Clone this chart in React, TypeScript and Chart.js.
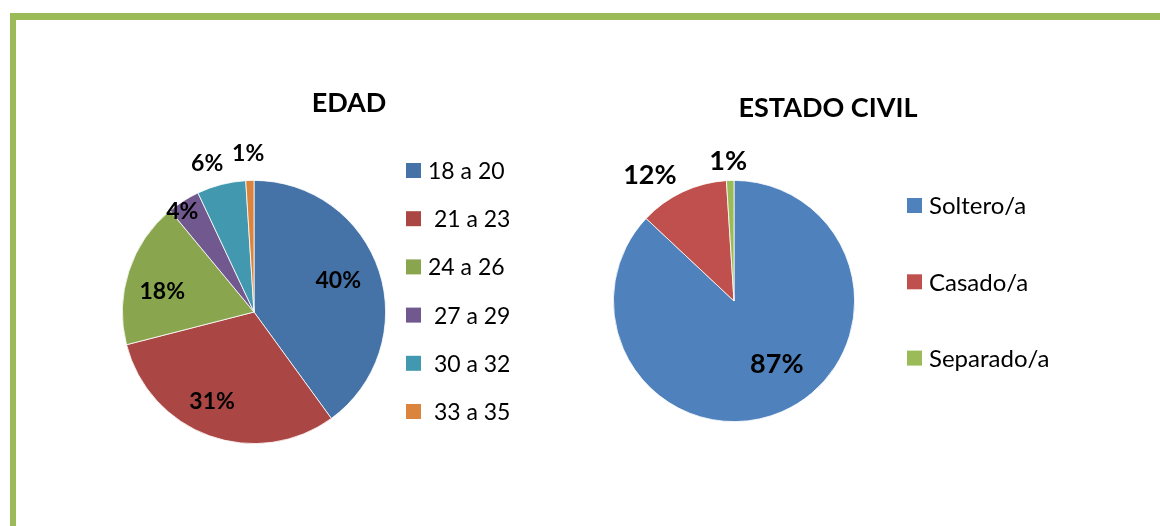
import React, { useEffect, useRef } from "react";
import { Chart, registerables } from "chart.js";

Chart.register(...registerables);

// ---- Data ----
const edadLabels = ["18 a 20", " 21 a 23", "24 a 26", " 27 a 29", " 30 a 32", " 33 a 35"];
const edadValues = [40, 31, 18, 4, 6, 1];
const edadColors = ["#4572A7", "#AA4643", "#89A54E", "#71588F", "#4198AF", "#DB843D"];

const civilLabels = ["Soltero/a", "Casado/a", "Separado/a"];
const civilValues = [87, 12, 1];
const civilColors = ["#4F81BD", "#C0504D", "#9BBB59"];

// ---- Style (label placement: [radius factor, angle offset deg]) ----
const edadLabelPlace = [
  [0.687, -3.3],
  [0.745, 5.5],
  [0.717, -4.6],
  [0.946, -2.8],
  [1.191, -3],
  [1.213, -0.3],
];
const civilLabelPlace = [
  [0.624, -11.3],
  [1.26, -8.4],
  [1.166, -0.6],
];

const FONT = "Lato, 'Open Sans', sans-serif";

type Cfg = {
  title: string;
  titleX: number;
  titleY: number;
  place: number[][];
  labelSize: number;
  legendX: number;
  legendY0: number;
  legendStep: number;
  legendSize: number;
};

function makePlugin(cfg: Cfg) {
  return {
    id: "custom-" + cfg.title,
    afterDatasetsDraw(chart: any) {
      const ctx = chart.ctx as CanvasRenderingContext2D;
      const meta = chart.getDatasetMeta(0);
      const ds = chart.data.datasets[0];
      ctx.save();
      // data labels
      ctx.fillStyle = "#000";
      ctx.textAlign = "center";
      ctx.textBaseline = "middle";
      ctx.font = `bold ${cfg.labelSize}px ${FONT}`;
      meta.data.forEach((arc: any, i: number) => {
        const { x, y, startAngle, endAngle, outerRadius } = arc.getProps(
          ["x", "y", "startAngle", "endAngle", "outerRadius"],
          true
        );
        const [f, off] = cfg.place[i];
        const a = (startAngle + endAngle) / 2 + (off * Math.PI) / 180;
        const d = outerRadius * f;
        ctx.fillText(ds.data[i] + "%", x + Math.cos(a) * d, y + Math.sin(a) * d + 1);
      });
      // title
      ctx.font = `bold 27px ${FONT}`;
      ctx.fillText(cfg.title, cfg.titleX, cfg.titleY);
      // legend
      ctx.textAlign = "left";
      ctx.font = `${cfg.legendSize}px ${FONT}`;
      chart.data.labels.forEach((lab: string, i: number) => {
        const cy = cfg.legendY0 + i * cfg.legendStep;
        ctx.fillStyle = ds.backgroundColor[i];
        ctx.fillRect(cfg.legendX, cy - 7.5, 15, 15);
        ctx.fillStyle = "#000";
        ctx.fillText(lab, cfg.legendX + 22, cy + 1);
      });
      ctx.restore();
    },
  };
}

function PieChart(props: {
  labels: string[];
  values: number[];
  colors: string[];
  padding: { left: number; top: number; right: number; bottom: number };
  cfg: Cfg;
  left: number;
}) {
  const ref = useRef<HTMLCanvasElement>(null);
  useEffect(() => {
    if (!ref.current) return;
    const chart = new Chart(ref.current, {
      type: "pie",
      data: {
        labels: props.labels,
        datasets: [
          {
            data: props.values,
            backgroundColor: props.colors,
            borderColor: "#ffffff",
            borderWidth: 0.8,
          },
        ],
      },
      options: {
        animation: false,
        responsive: false,
        layout: { padding: props.padding },
        plugins: {
          legend: { display: false },
          tooltip: { enabled: false },
          title: { display: false },
        },
      },
      plugins: [makePlugin(props.cfg)],
    });
    return () => chart.destroy();
  }, []);
  return (
    <canvas
      ref={ref}
      width={580}
      height={526}
      style={{ position: "absolute", left: props.left, top: 0, width: 580, height: 526 }}
    />
  );
}

export default function App() {
  return (
    <div
      style={{
        position: "fixed",
        left: 0,
        top: 0,
        width: 1160,
        height: 526,
        background: "#fff",
        overflow: "hidden",
      }}
    >
      <div style={{ position: "absolute", left: 10, top: 13, width: 1150, height: 7, background: "#9BBB59" }} />
      <div style={{ position: "absolute", left: 10, top: 13, width: 6, height: 513, background: "#9BBB59" }} />
      <PieChart
        labels={edadLabels}
        values={edadValues}
        colors={edadColors}
        padding={{ left: 122, top: 180, right: 194, bottom: 82 }}
        left={0}
        cfg={{
          title: "EDAD",
          titleX: 349,
          titleY: 103,
          place: edadLabelPlace,
          labelSize: 23,
          legendX: 406,
          legendY0: 170.5,
          legendStep: 48.2,
          legendSize: 23,
        }}
      />
      <PieChart
        labels={civilLabels}
        values={civilValues}
        colors={civilColors}
        padding={{ left: 33, top: 180, right: 305, bottom: 104 }}
        left={580}
        cfg={{
          title: "ESTADO CIVIL",
          titleX: 248,
          titleY: 108,
          place: civilLabelPlace,
          labelSize: 27,
          legendX: 327,
          legendY0: 205.5,
          legendStep: 76.3,
          legendSize: 24,
        }}
      />
    </div>
  );
}
